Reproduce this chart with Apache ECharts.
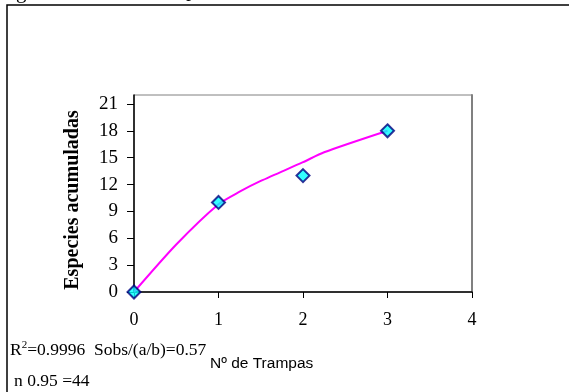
<!DOCTYPE html>
<html>
<head>
<meta charset="utf-8">
<script src="https://cdn.jsdelivr.net/npm/echarts@6/dist/echarts.min.js"></script>
<style>html,body{margin:0;padding:0;background:#fff;}#c{width:569px;height:392px;}</style>
</head>
<body>
<div id="c"></div>
<script>
// Observed data points (Nº de Trampas vs Especies acumuladas)
var obsX = [0, 1, 2, 3];
var obsY = [0, 10, 13, 18];
// Fitted curve
var fitX = [0, 0.5, 1, 1.25, 1.5, 2, 2.25, 3];
var fitY = [0, 5.3, 9.8, 11.2, 12.4, 14.5, 15.6, 18];
// Tick labels
var xTicks = [0, 1, 2, 3, 4];
var yTicks = [0, 3, 6, 9, 12, 15, 18, 21];
// Texts
var yTitle = 'Especies acumuladas';
var xTitle = 'Nº de Trampas';
var statLine1 = 'R{sup|2}=0.9996  Sobs/(a/b)=0.57';
var statLine2 = 'n 0.95 =44';
var topTitle = 'gestión de la Zona Quemada';

var chart = echarts.init(document.getElementById('c'), null, {renderer: 'canvas'});
var serif = 'Liberation Serif';
chart.setOption({
  animation: false,
  backgroundColor: '#fff',
  grid: {left: 134, right: 97, top: 95, bottom: 100, show: true, borderColor: '#808080', borderWidth: 1},
  xAxis: [{
    type: 'value', min: xTicks[0], max: xTicks[xTicks.length - 1], interval: 1,
    axisLine: {lineStyle: {color: '#000', width: 1.5}},
    axisTick: {show: true, length: 6, lineStyle: {color: '#000', width: 1}},
    axisLabel: {margin: 19, fontFamily: serif, fontSize: 18, color: '#000'},
    splitLine: {show: false}
  }],
  yAxis: [{
    type: 'value', min: 0, max: 22,
    axisLine: {show: true, lineStyle: {color: '#000', width: 1.5}},
    axisTick: {show: true, length: 7, customValues: yTicks, lineStyle: {color: '#000', width: 1}},
    axisLabel: {margin: 16, fontFamily: serif, fontSize: 19, color: '#000', customValues: yTicks},
    splitLine: {show: false}
  }, {
    type: 'value', min: 0, max: 22, position: 'right',
    axisLine: {show: true, lineStyle: {color: '#808080', width: 2}},
    axisTick: {show: false}, axisLabel: {show: false}, splitLine: {show: false}
  }],
  series: [{
    type: 'line',
    data: fitX.map(function (x, i) { return [x, fitY[i]]; }),
    smooth: 0.25,
    symbol: 'none',
    lineStyle: {color: '#FF00FF', width: 2},
    z: 2
  }, {
    type: 'scatter',
    data: obsX.map(function (x, i) { return [x, obsY[i]]; }),
    symbol: 'diamond',
    symbolSize: 13,
    itemStyle: {color: '#00FFFF', borderColor: '#000080', borderWidth: 2},
    z: 3
  }],
  graphic: [
    {type: 'rect', shape: {x: 7, y: 5, width: 600, height: 500}, style: {fill: null, stroke: '#000', lineWidth: 1.5}, silent: true, z: 100},
    {type: 'text', x: 16, y: 3, style: {text: topTitle, font: '21px "Liberation Serif"', fill: '#000', align: 'left', verticalAlign: 'bottom'}},
    {type: 'text', x: 73, y: 200, rotation: Math.PI / 2, style: {text: yTitle, font: 'bold 20px "Liberation Serif"', fill: '#000', align: 'center', verticalAlign: 'middle'}},
    {type: 'text', x: 10, y: 350, style: {text: statLine1, font: '17.5px "Liberation Serif"', fill: '#000', align: 'left', verticalAlign: 'middle',
      rich: {sup: {fontSize: 11, fontFamily: serif, padding: [0, 0, 9, 0]}}}},
    {type: 'text', x: 14, y: 381, style: {text: statLine2, font: '17.5px "Liberation Serif"', fill: '#000', align: 'left', verticalAlign: 'middle'}},
    {type: 'text', x: 210, y: 364, style: {text: xTitle, font: '15.5px "Liberation Sans"', fill: '#000', align: 'left', verticalAlign: 'middle'}}
  ]
});
</script>
</body>
</html>
